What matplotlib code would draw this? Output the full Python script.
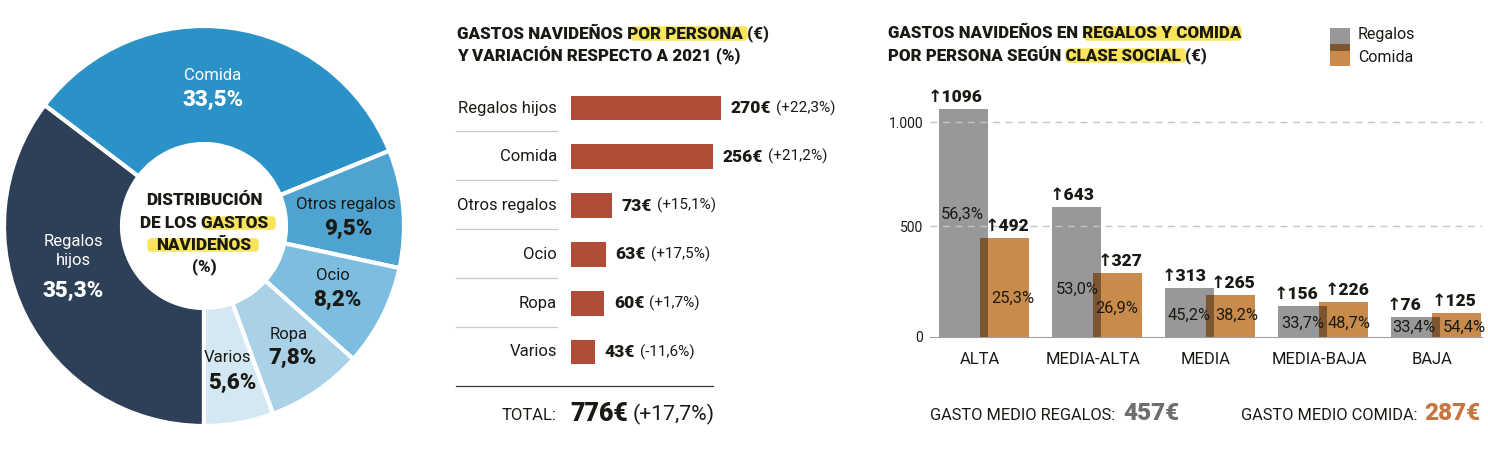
import matplotlib
matplotlib.use('Agg')
import matplotlib.pyplot as plt
from matplotlib.patches import FancyBboxPatch, Rectangle
import numpy as np

plt.rcParams['font.family'] = ['Roboto', 'DejaVu Sans']

# Datos
pie_labels = ['Regalos\nhijos', 'Comida', 'Otros regalos', 'Ocio', 'Ropa', 'Varios']
pie_values = [35.3, 33.5, 9.5, 8.2, 7.8, 5.6]
pie_colors = ['#2e4057', '#2a92c6', '#4ea3d0', '#7dbddf', '#a9d1e8', '#d3e8f3']

gasto_labels = ['Regalos hijos', 'Comida', 'Otros regalos', 'Ocio', 'Ropa', 'Varios']
gasto_values = [270, 256, 73, 63, 60, 43]
gasto_var = ['+22,3%', '+21,2%', '+15,1%', '+17,5%', '+1,7%', '-11,6%']

clases = ['ALTA', 'MEDIA-ALTA', 'MEDIA', 'MEDIA-BAJA', 'BAJA']
# alturas leidas contra el eje: el original no dibuja las barras a escala de sus cifras
regalos_alto = [1060, 605, 228, 144, 93]
comida_alto = [460, 298, 195, 163, 112]
regalos_cifra = [1096, 643, 313, 156, 76]
comida_cifra = [492, 327, 265, 226, 125]
regalos_pct = ['56,3%', '53,0%', '45,2%', '33,7%', '33,4%']
comida_pct = ['25,3%', '26,9%', '38,2%', '48,7%', '54,4%']
y_ticks = [0, 516, 1000]
y_ticklabels = ['0', '500', '1.000']

NEGRO = '#1a1a14'
GRIS = '#999898'
NARANJA = '#c98b4c'
SOLAPE = '#7d5530'
AMARILLO = '#f9e45c'
W, H = 1488, 458


def px_axes(fig, left, top, right, bottom, **kw):
    return fig.add_axes([left / W, 1 - bottom / H, (right - left) / W, (bottom - top) / H], **kw)


fig = plt.figure(figsize=(W / 100, H / 100), dpi=100, facecolor='white')

# capa de textos en pixeles
ov = px_axes(fig, 0, 0, W, H, zorder=5)
ov.set_xlim(0, W)
ov.set_ylim(H, 0)
ov.axis('off')
ov.patch.set_alpha(0)


def txt(x, y, s, size=12, weight='normal', color=NEGRO, ha='center'):
    return ov.text(x, y, s, fontsize=size, fontweight=weight, color=color, ha=ha, va='center')


def marca(x0, x1, y0, y1):
    ov.add_patch(FancyBboxPatch((x0 + 3, y0 + 2), x1 - x0 - 6, y1 - y0 - 4,
                                boxstyle='round,pad=0,rounding_size=2', mutation_aspect=1,
                                fc=AMARILLO, ec=AMARILLO, lw=2.5, zorder=0))


# ====================
# Donut
# ====================
ax1 = px_axes(fig, 4, 26, 404, 426)
ax1.pie(pie_values, colors=pie_colors, startangle=-90, counterclock=False, radius=1,
        wedgeprops=dict(width=0.59, edgecolor='white', linewidth=3))
ax1.set_xlim(-1, 1)
ax1.set_ylim(-1, 1)

pie_nombre_pos = [(73, 251), (213, 75), (346, 205), (333, 275), (289, 335), (228, 358)]
pie_pct_pos = [(73, 291), (213, 100), (348, 229), (337, 300), (293, 358), (232, 383)]
for i in range(len(pie_values)):
    c = 'white' if i < 2 else NEGRO
    t = txt(*pie_nombre_pos[i], pie_labels[i], 12, color=c)
    t.set_linespacing(1.3)
    pct = f'{pie_values[i]:.1f}%'.replace('.', ',')
    txt(*pie_pct_pos[i], pct, 16, 900, c)

marca(201, 277, 216, 230)
marca(146, 260, 238, 252)
txt(204, 200, 'DISTRIBUCIÓN', 12.3, 900)
txt(204, 223, 'DE LOS GASTOS', 12.3, 900)
txt(204, 245, 'NAVIDEÑOS', 12.3, 900)
txt(204, 267, '(%)', 12.3, 900)

# ====================
# Barras horizontales
# ====================
marca(629, 749, 26, 41)
txt(457, 33, 'GASTOS NAVIDEÑOS POR PERSONA (€)', 12.25, 900, ha='left')
txt(457, 55, 'Y VARIACIÓN RESPECTO A 2021 (%)', 12.25, 900, ha='left')

ax2 = px_axes(fig, 571, 83.6, 721, 376.4)
y = np.arange(len(gasto_values))
ax2.barh(y, gasto_values, height=0.51, color='#b04c38')
ax2.set_xlim(0, 270)
ax2.set_ylim(5.5, -0.5)
ax2.axis('off')

for i in range(len(gasto_values)):
    val = ax2.annotate(f'{gasto_values[i]}€', xy=(gasto_values[i], i), xytext=(7, 0),
                       textcoords='offset points', fontsize=12.5, fontweight=900,
                       color=NEGRO, va='center', annotation_clip=False)
    ax2.annotate(f'({gasto_var[i]})', xy=(1, 0.5), xycoords=val, xytext=(3.5, 0),
                 textcoords='offset points', fontsize=11, color=NEGRO, va='center')
    txt(557, 108 + 48.8 * i, gasto_labels[i], 12, ha='right')
    if i < len(gasto_values) - 1:
        ov.plot([456, 557], [131.4 + 48.8 * i] * 2, color='#c8c8c8', lw=0.9)

ov.plot([456, 713], [386, 386], color='#333333', lw=0.9)
txt(557, 415, 'TOTAL:', 12, ha='right')
txt(570, 414, '776€', 18, 900, ha='left')
txt(633, 414, '(+17,7%)', 15.3, ha='left')

# ====================
# Barras por clase social
# ====================
marca(1083, 1243, 26, 41)
marca(1064, 1187, 48, 63)
txt(888, 33, 'GASTOS NAVIDEÑOS EN REGALOS Y COMIDA', 12.2, 900, ha='left')
txt(888, 55, 'POR PERSONA SEGÚN CLASE SOCIAL (€)', 12.2, 900, ha='left')

ax3 = px_axes(fig, 930, 100, 1482, 337)
x = np.arange(len(clases))
sep = 20.5 / 113
ancho = 49 / 113
ax3.bar(x - sep, regalos_alto, ancho, color=GRIS, zorder=2)
ax3.bar(x + sep, comida_alto, ancho, color=NARANJA, zorder=2)
ax3.bar(x, np.minimum(regalos_alto, comida_alto), 8 / 113, color=SOLAPE, zorder=2)
ax3.set_xlim(-54 / 113, 498 / 113)
ax3.set_ylim(0, 237 / 0.215)
ax3.patch.set_alpha(0)
for s in ['top', 'left', 'right']:
    ax3.spines[s].set_visible(False)
ax3.spines['bottom'].set_color('#a0a0a0')
ax3.set_yticks(y_ticks)
ax3.set_yticklabels(y_ticklabels, fontsize=10, color=NEGRO)
ax3.set_xticks(x - 0.035)
ax3.set_xticklabels(clases, fontsize=12, color=NEGRO)
ax3.tick_params(length=0)
ax3.tick_params(axis='x', pad=10.5)
ax3.tick_params(axis='y', pad=5)
ax3.grid(axis='y', color='#c4c4c4', linestyle=(0, (5, 4)), lw=1, zorder=3)
ax3.set_axisbelow(False)
ax3.yaxis.get_gridlines()[0].set_visible(False)

reg_dx = [-8, -4, -5, -6, -11]
com_dx = [3, 3, 3, 4, -2]
reg_pct_pos = [(962, 214), (1077, 289), (1189, 315), (1303, 323), (1414, 327)]
com_pct_pos = [(1013, 298), (1117, 308), (1237, 315), (1349, 323), (1464, 327)]
for i in range(len(clases)):
    ax3.annotate(f'↑{regalos_cifra[i]}', xy=(i - sep, regalos_alto[i]), xytext=(reg_dx[i] * 0.72, 8.5),
                 textcoords='offset points', ha='center', va='center', fontsize=12.5,
                 fontweight=900, color=NEGRO, annotation_clip=False, zorder=6)
    ax3.annotate(f'↑{comida_cifra[i]}', xy=(i + sep, comida_alto[i]), xytext=(com_dx[i] * 0.72, 8.5),
                 textcoords='offset points', ha='center', va='center', fontsize=12.5,
                 fontweight=900, color=NEGRO, annotation_clip=False, zorder=6)
    txt(*reg_pct_pos[i], regalos_pct[i], 11.8)
    txt(*com_pct_pos[i], comida_pct[i], 11.8)

# leyenda
ov.add_patch(Rectangle((1330, 28), 20, 23, fc=GRIS, ec='none'))
ov.add_patch(Rectangle((1330, 44), 20, 22, fc=NARANJA, ec='none'))
ov.add_patch(Rectangle((1330, 44), 20, 7, fc=SOLAPE, ec='none'))
txt(1358, 35, 'Regalos', 11.5, ha='left')
txt(1358, 58, 'Comida', 11.5, ha='left')

# pie del grafico
txt(930, 415, 'GASTO MEDIO REGALOS:', 11.8, ha='left')
txt(1123, 414, '457€', 17.5, 900, '#6e6e6e', ha='left')
txt(1241, 415, 'GASTO MEDIO COMIDA:', 11.8, ha='left')
txt(1424, 414, '287€', 17.5, 900, '#c8763f', ha='left')

fig.savefig('out.png', dpi=100, facecolor='white')
